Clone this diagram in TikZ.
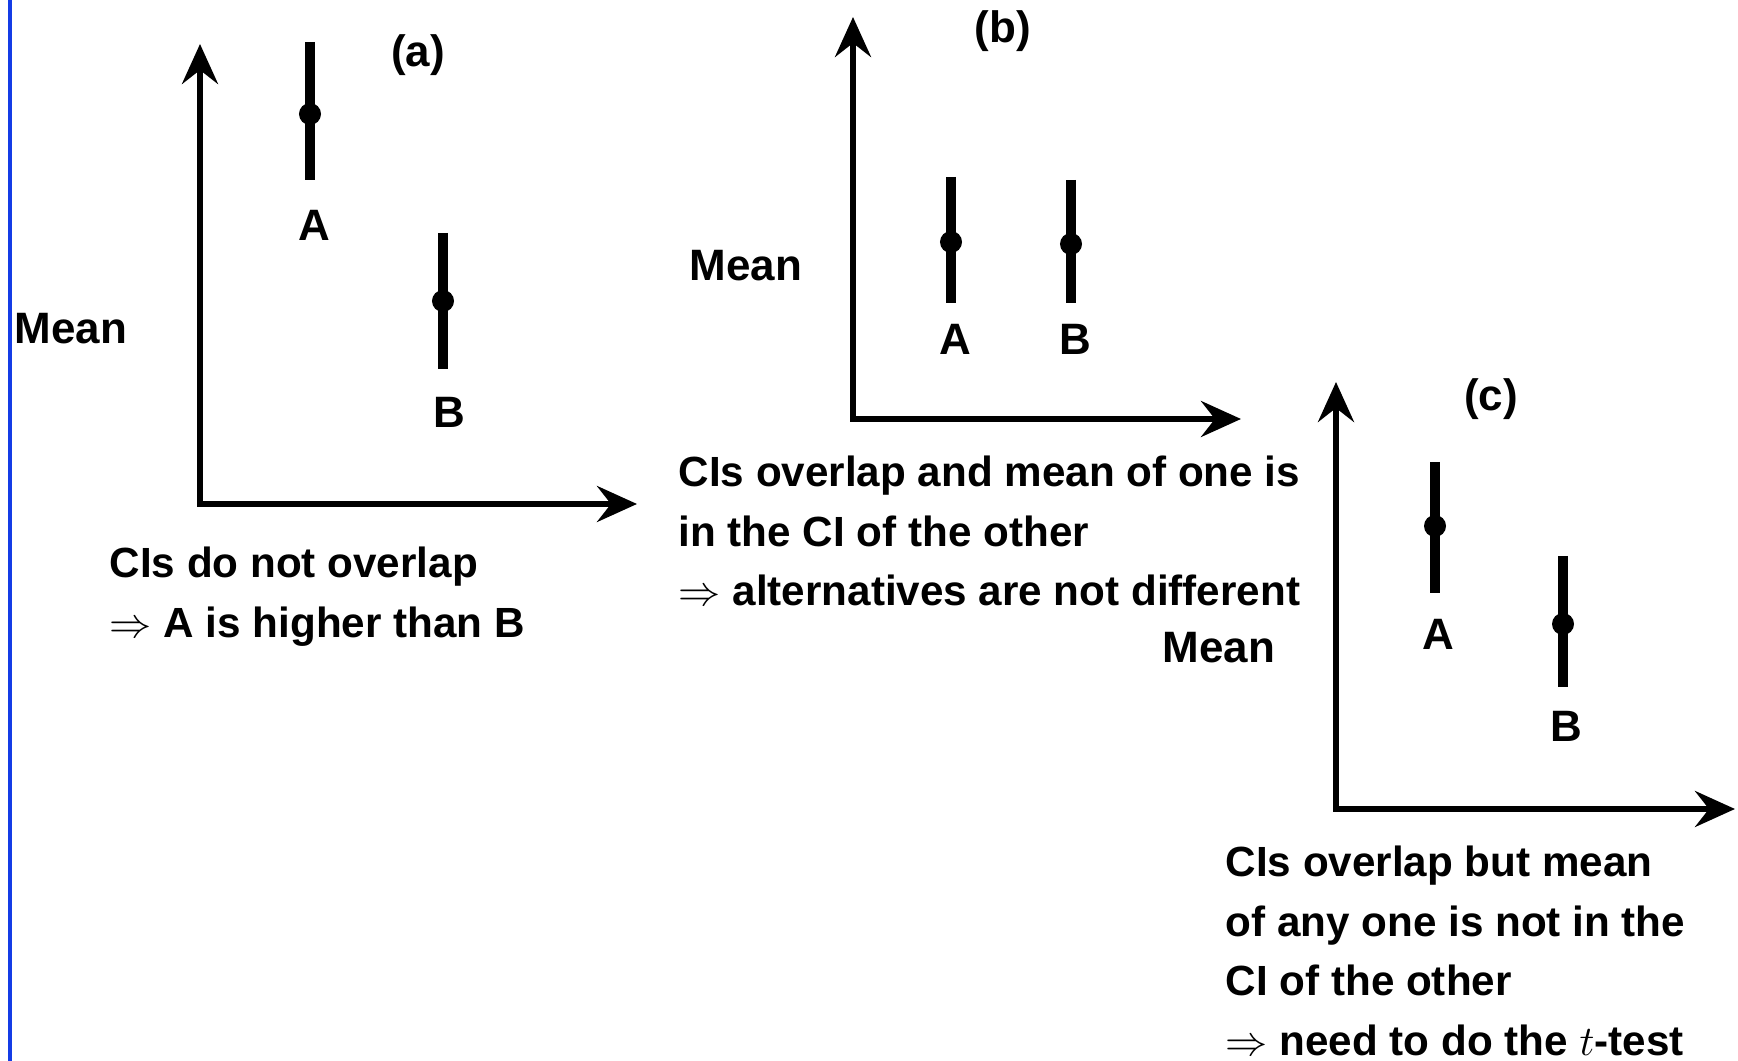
\documentclass[tikz,border=0pt]{standalone}
\usepackage{fontspec}
\setmainfont{Liberation Sans}
\usepackage{tikz}
\usetikzlibrary{arrows.meta,positioning}
\definecolor{frameBlue}{RGB}{20,60,230}
\tikzset{
  >=Stealth,
  axis/.style={
    {Stealth[length=4mm,width=3.6mm,inset=1.4mm]}-{Stealth[length=4mm,width=3.6mm,inset=1.4mm]},
    line width=1.6pt
  },
  cibar/.style={line width=2.8pt},
  meandot/.style={circle, fill=black, inner sep=0pt, minimum size=2.2mm},
  lbl/.style={font=\fontsize{12.5}{15}\selectfont\bfseries, inner sep=0pt},
  capt/.style={
    inner sep=0pt,
    anchor=north west,
    align=left,
    font=\fontsize{12}{17}\selectfont\bfseries
  }
}
\begin{document}
\begin{tikzpicture}[x=0.01cm,y=-0.01cm]
\useasboundingbox (0,0) rectangle (1738,1061);

% left frame line
\draw[frameBlue, line width=1.3pt] (10,0) -- (10,1061);

% (a)
\coordinate (ya) at (200,44);
\coordinate (oa) at (200,504);
\coordinate (xa) at (637,504);
\draw[axis] (ya) -- (oa) -- (xa);
\node[lbl] (tagA) at (418,55) {(a)};
\node[lbl, anchor=west] (meanA) at (14,329) {Mean};
\coordinate (aTopA) at (310,42);
\coordinate (aBotA) at (310,180);
\draw[cibar] (aTopA) -- (aBotA);
\node[meandot] (aDotA) at (310,114) {};
\node[lbl] (aLabA) at (314,225) {A};
\coordinate (bTopA) at (443,233);
\coordinate (bBotA) at (443,369);
\draw[cibar] (bTopA) -- (bBotA);
\node[meandot] (bDotA) at (443,301) {};
\node[lbl] (bLabA) at (449,412) {B};
\node[capt] (captA) at (109,546)
{CIs do not overlap\\
$\Rightarrow$ A is higher than B};

% (b)
\coordinate (yb) at (853,17);
\coordinate (ob) at (853,419);
\coordinate (xb) at (1241,419);
\draw[axis] (yb) -- (ob) -- (xb);
\node[lbl] (tagB) at (1003,31) {(b)};
\node[lbl] (meanB) at (746,266) {Mean};
\coordinate (aTopB) at (951,177);
\coordinate (aBotB) at (951,303);
\draw[cibar] (aTopB) -- (aBotB);
\node[meandot] (aDotB) at (951,242) {};
\node[lbl] (aLabB) at (955,339) {A};
\coordinate (bTopB) at (1071,180);
\coordinate (bBotB) at (1071,303);
\draw[cibar] (bTopB) -- (bBotB);
\node[meandot] (bDotB) at (1071,244) {};
\node[lbl] (bLabB) at (1075,339) {B};
\node[capt] (captB) at (678,455)
{CIs overlap and mean of one is\\
in the CI of the other\\
$\Rightarrow$ alternatives are not different};

% (c)
\coordinate (yc) at (1336,382);
\coordinate (oc) at (1336,809);
\coordinate (xc) at (1735,809);
\draw[axis] (yc) -- (oc) -- (xc);
\node[lbl] (tagC) at (1491,399) {(c)};
\node[lbl] (meanC) at (1219,648) {Mean};
\coordinate (aTopC) at (1435,462);
\coordinate (aBotC) at (1435,593);
\draw[cibar] (aTopC) -- (aBotC);
\node[meandot] (aDotC) at (1435,526) {};
\node[lbl] (aLabC) at (1438,634) {A};
\coordinate (bTopC) at (1563,556);
\coordinate (bBotC) at (1563,687);
\draw[cibar] (bTopC) -- (bBotC);
\node[meandot] (bDotC) at (1563,624) {};
\node[lbl] (bLabC) at (1566,726) {B};
\node[capt] (captC) at (1225,845)
{CIs overlap but mean\\
of any one is not in the\\
CI of the other\\
$\Rightarrow$ need to do the $t$-test};

\end{tikzpicture}
\end{document}
